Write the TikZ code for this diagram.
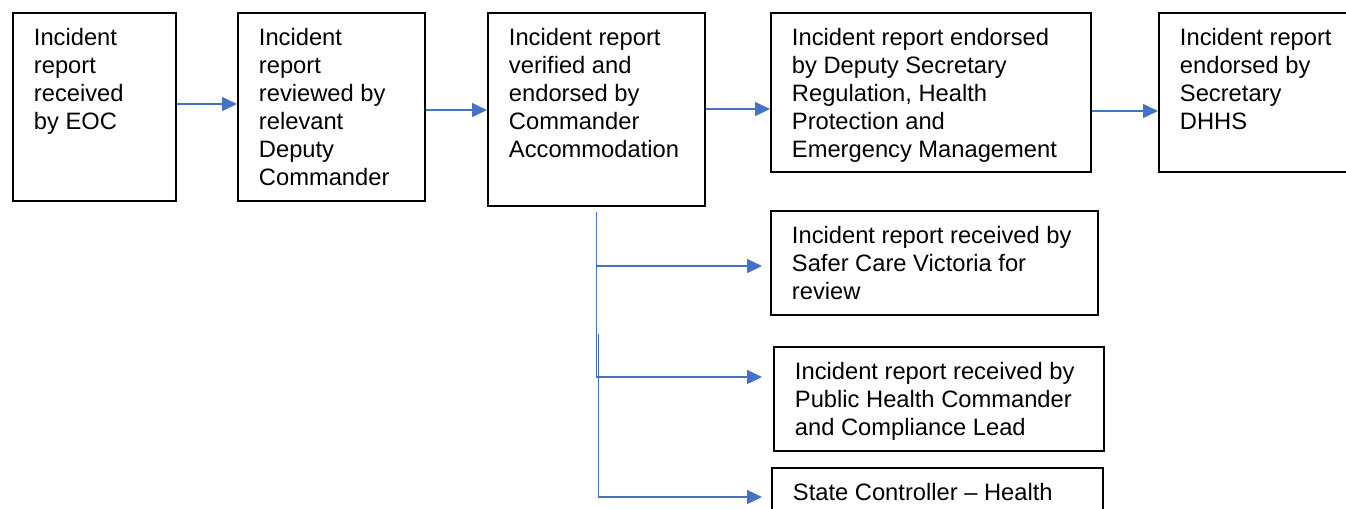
\documentclass[tikz,border=0pt]{standalone}
\usepackage{fontspec}
\setmainfont{Liberation Sans}
\usepackage{tikz}
\usetikzlibrary{%
  positioning
 ,arrows.meta
 ,calc
}
\definecolor{arrowblue}{HTML}{4472C4}
\newlength\pxunit
\setlength\pxunit{0.02cm}
% box text: width, height (in px), lines
\newcommand{\boxtext}[3]{\parbox[c][\dimexpr#2\pxunit-26\pxunit\relax][t]{\dimexpr#1\pxunit-42\pxunit\relax}{\begin{tabular}[t]{@{}l@{}}#3\end{tabular}}}
\tikzstyle{stage}=[draw=black,line width=1.1pt,anchor=north west,inner xsep=0.42cm,inner ysep=0.26cm,font=\fontsize{13.5}{15.9}\selectfont]
\tikzstyle{flow}=[draw=arrowblue,line width=0.8pt,-{Triangle[length=0.3cm,width=0.28cm]}]

\begin{document}
\begin{tikzpicture}[x=0.02cm,y=-0.02cm]
  \useasboundingbox (0,0) rectangle (1346,508);
  \clip (0,0) rectangle (1346,508);
      \node[stage] (eoc) at (12,12) {\boxtext{163}{188}{Incident\\report\\received\\by EOC}};
      \node[stage] (deputy) at (237,12) {\boxtext{187}{188}{Incident\\report\\reviewed by\\relevant\\Deputy\\Commander}};
      \node[stage] (commander) at (487,12) {\boxtext{217}{193}{Incident report\\verified and\\endorsed by\\Commander\\Accommodation}};
      \node[stage] (depsec) at (770,12) {\boxtext{320}{159}{Incident report endorsed\\by Deputy Secretary\\Regulation, Health\\Protection and\\Emergency Management}};
      \node[stage] (secretary) at (1158,12) {\boxtext{200}{159}{Incident report\\endorsed by\\Secretary\\DHHS}};
      \node[stage] (safercare) at (770,210) {\boxtext{327}{104}{Incident report received by\\Safer Care Victoria for\\review}};
      \node[stage] (publichealth) at (773,346) {\boxtext{330}{104}{Incident report received by\\Public Health Commander\\and Compliance Lead}};
      \node[stage] (statectl) at (771,467) {\boxtext{331}{104}{State Controller -- Health}};
      % main chain
      \draw[flow] (eoc.east |- 0,104) -- (deputy.west |- 0,104);
      \draw[flow] (deputy.east |- 0,110) -- (commander.west |- 0,110);
      \draw[flow] (commander.east |- 0,109) -- (depsec.west |- 0,109);
      \draw[flow] (depsec.east |- 0,111) -- (secretary.west |- 0,111);
      % branches
      \coordinate (fork) at ($(commander.south)+(0,5)$);
      \coordinate (fork2) at ($(commander.south)+(2,127)$);
      \draw[flow,shorten >=0.16cm] (fork) |- (safercare.west |- 0,266);
      \draw[flow,shorten >=0.22cm] (fork) |- (publichealth.west |- 0,377);
      \draw[flow,shorten >=0.18cm] (fork2) |- (statectl.west |- 0,497);
    \end{tikzpicture}
\end{document}
